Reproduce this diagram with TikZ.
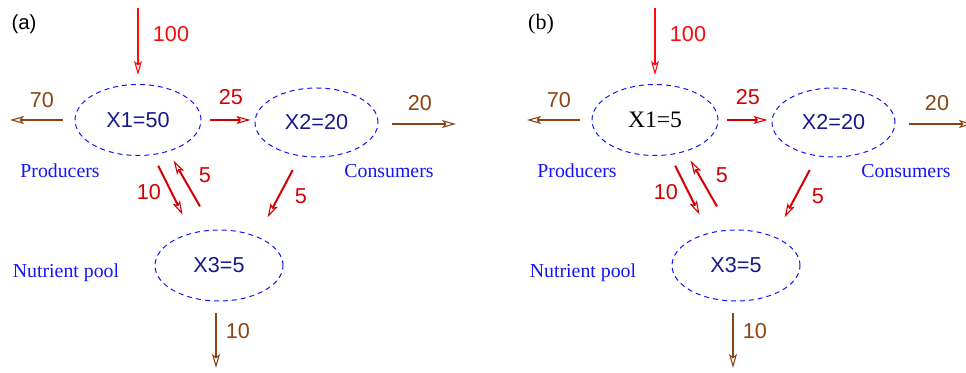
\documentclass[tikz,border=0pt]{standalone}
\usepackage{fontspec}
\setmainfont{Liberation Serif}
\setsansfont{Liberation Sans}
\usetikzlibrary{arrows.meta,shapes.geometric,positioning,calc}
\definecolor{inred}{RGB}{250,10,10}
\definecolor{flowred}{RGB}{212,0,0}
\definecolor{lossbrown}{RGB}{139,69,19}
\definecolor{stocknavy}{RGB}{25,25,140}
\definecolor{roleblue}{RGB}{20,20,250}

\begin{document}
\begin{tikzpicture}[x=0.5pt,y=-0.5pt,
    stock/.style={ellipse, draw=roleblue, dash pattern=on 2.5pt off 2pt, line width=0.5pt,
        minimum width=63pt, minimum height=35.5pt, inner sep=0pt, text=stocknavy,
        font=\sffamily\fontsize{10.8}{13}\selectfont},
    role/.style={text=roleblue, font=\fontsize{9.9}{12}\selectfont},
    amount/.style={text=flowred, font=\sffamily\fontsize{10.8}{13}\selectfont},
    flow/.style={draw=flowred, line width=1pt,
        -{Stealth[open,length=7pt,width=4pt,inset=1.5pt,line width=0.55pt]}},
    inflow/.style={flow, draw=inred},
    loss/.style={flow, draw=lossbrown}]
    \clip (0,0) rectangle (966,373);

    % (a)
    \node[font=\sffamily\fontsize{10.2}{12}\selectfont] (a-tag) at (24,24) {(a)};
    \node[stock] (a1) at (138,120) {X1=50};
    \node[stock, minimum width=61.5pt, minimum height=34.5pt] (a2) at (316.5,122.5) {X2=20};
    \node[stock, minimum width=64pt] (a3) at (219,265.5) {X3=5};
    \node[role] (a-prod) at (60,171) {Producers};
    \node[role] (a-cons) at (389,171) {Consumers};
    \node[role] (a-pool) at (66,273) {Nutrient pool};
    \coordinate (a-in) at (138,8);
    \coordinate (a-out1) at (10,120);
    \coordinate (a-out2) at (456,124);
    \coordinate (a-out3) at (216,368);
    \draw[inflow, shorten >=4.5pt] (a-in) -- (a1.north);
    \draw[loss, shorten <=6pt] (a1.west) -- (a-out1);
    \draw[flow, shorten <=4pt, shorten >=2pt] (a1.east) -- (a1.east -| a2.west);
    \draw[loss, shorten <=6.5pt] (a2.east |- a-out2) -- (a-out2);
    \draw[flow, shorten <=6pt, shorten >=10.2pt] (a1.-67) -- (a3.130);
    \draw[flow, shorten <=13.4pt, shorten >=5.2pt] (a3.99) -- (a1.-46);
    \draw[flow, shorten <=7.8pt, shorten >=10.9pt] (a2.-116) -- (a3.37);
    \draw[loss, shorten <=6pt] (a3.south -| a-out3) -- (a-out3);
    \node[amount, text=inred] (a-n100) at (171,34) {100};
    \node[amount, text=lossbrown] (a-n70) at (42,100) {70};
    \node[amount] (a-n25) at (231,97) {25};
    \node[amount, text=lossbrown] (a-n20) at (420,103) {20};
    \node[amount] (a-n10) at (149,192) {10};
    \node[amount] (a-n5a) at (205,175) {5};
    \node[amount] (a-n5b) at (301,196) {5};
    \node[amount, text=lossbrown] (a-n10b) at (238,331) {10};

    % (b)
    \node[font=\fontsize{11}{13}\selectfont] (b-tag) at (541,24) {(b)};
    \node[stock, text=black, font=\fontsize{11.8}{14}\selectfont] (b1) at (655,120) {X1=5};
    \node[stock, minimum width=61.5pt, minimum height=34.5pt] (b2) at (833.5,122.5) {X2=20};
    \node[stock, minimum width=64pt] (b3) at (736,265.5) {X3=5};
    \node[role] (b-prod) at (577,171) {Producers};
    \node[role] (b-cons) at (906,171) {Consumers};
    \node[role] (b-pool) at (583,273) {Nutrient pool};
    \coordinate (b-in) at (655,8);
    \coordinate (b-out1) at (527,120);
    \coordinate (b-out2) at (973,124);
    \coordinate (b-out3) at (733,368);
    \draw[inflow, shorten >=4.5pt] (b-in) -- (b1.north);
    \draw[loss, shorten <=6pt] (b1.west) -- (b-out1);
    \draw[flow, shorten <=4pt, shorten >=2pt] (b1.east) -- (b1.east -| b2.west);
    \draw[loss, shorten <=6.5pt] (b2.east |- b-out2) -- (b-out2);
    \draw[flow, shorten <=6pt, shorten >=10.2pt] (b1.-67) -- (b3.130);
    \draw[flow, shorten <=13.4pt, shorten >=5.2pt] (b3.99) -- (b1.-46);
    \draw[flow, shorten <=7.8pt, shorten >=10.9pt] (b2.-116) -- (b3.37);
    \draw[loss, shorten <=6pt] (b3.south -| b-out3) -- (b-out3);
    \node[amount, text=inred] (b-n100) at (688,34) {100};
    \node[amount, text=lossbrown] (b-n70) at (559,100) {70};
    \node[amount] (b-n25) at (748,97) {25};
    \node[amount, text=lossbrown] (b-n20) at (937,103) {20};
    \node[amount] (b-n10) at (666,192) {10};
    \node[amount] (b-n5a) at (722,175) {5};
    \node[amount] (b-n5b) at (818,196) {5};
    \node[amount, text=lossbrown] (b-n10b) at (755,331) {10};
\end{tikzpicture}
\end{document}
